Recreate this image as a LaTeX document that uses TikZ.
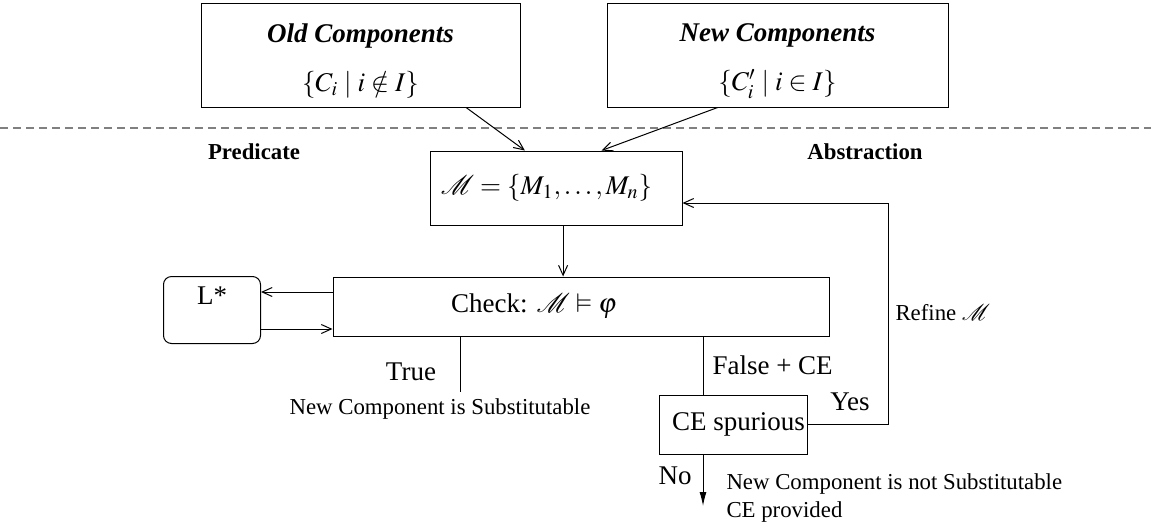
\documentclass[tikz,border=0pt]{standalone}
\usepackage{mathptmx}
\usepackage{amssymb}
\usepackage{fontspec}
\setmainfont{Liberation Serif}
\usepackage{tikz}
\usetikzlibrary{
  arrows.meta,
  calc,
}
\tikzstyle{box} = [rectangle,draw,line width=0.5pt,inner sep=0pt,font=\boxfont]
\tikzstyle{arrow} = [-{Straight Barb[length=5pt,width=4.5pt]},line width=0.5pt]
\tikzstyle{final} = [-{Latex[length=7pt,width=3.5pt]},line width=0.5pt]
\tikzstyle{sep} = [dash pattern=on 4pt off 2.5pt,gray,line width=0.6pt]
\tikzstyle{lbl} = [inner sep=0pt,anchor=west]
\newcommand{\lblfont}{\fontsize{11.4}{14}\selectfont}
\newcommand{\boxfont}{\fontsize{13.5}{16}\selectfont}

\begin{document}
\begin{tikzpicture}[x=0.5pt,y=-0.5pt,line width=0.5pt]
      \useasboundingbox (0,0) rectangle (1151,531);

      \node[box,minimum width=159.5pt,minimum height=52pt,align=center] (old) at (360.5,55) {\rule{0pt}{15pt}\textbf{\textit{Old Components}}\\[8.5pt]$\{C_i \mid i \notin I\}$};
      \node[box,minimum width=170.5pt,minimum height=52pt,align=center] (new) at (777.5,55) {\rule{0pt}{15pt}\textbf{\textit{New Components}}\\[8.5pt]$\{C'_i \mid i \in I\}$};

      \draw[sep] (0,128) -- (1151,128);

      \node[font=\lblfont\bfseries] (pred) at (254,152) {Predicate};
      \node[font=\lblfont\bfseries] (abstr) at (865,152) {Abstraction};

      \node[box,minimum width=126pt,minimum height=37pt] (mbox) at (556,188) {$\mathcal{M} = \{M_1,\ldots,M_n\}$\hspace*{9.5pt}};
      \node[box,minimum width=248pt,minimum height=29.5pt] (check) at (581,306.5) {Check: $\mathcal{M} \vDash \varphi$\hspace*{47pt}};
      \node[box,rounded corners=4pt,minimum width=48.5pt,text height=14pt,text depth=19.5pt,anchor=north west] (lstar) at (163,276) {L*};
      \node[box,minimum width=74pt,minimum height=29.5pt] (ce) at (733,424.5) {\hspace*{5.5pt}CE spurious};

      \node[font=\boxfont] (true) at (411,372) {True};
      \node[font=\lblfont] (subst) at (440,409) {New Component is Substitutable};
      \node[lbl,font=\boxfont] (false) at (712,365) {False + CE};
      \node[font=\boxfont] (yes) at (850,402) {Yes};
      \node[font=\boxfont] (no) at (675,476) {No};
      \node[lbl,font=\lblfont] (refine) at (895,313) {Refine $\mathcal{M}$};
      \node[lbl,font=\lblfont,align=left] (notsubst) at (726,498) {New Component is not Substitutable\\CE provided};

      \coordinate (mout) at ($(mbox.south west)!0.528!(mbox.south east)$);
      \coordinate (noend) at (703,506);

      \draw[arrow] ($(old.south west)!0.83!(old.south east)$) -- ($(mbox.north west)!0.377!(mbox.north east)$);
      \draw[arrow] ($(new.south west)!0.325!(new.south east)$) -- ($(mbox.north west)!0.68!(mbox.north east)$);
      \draw[arrow] (mout) -- (mout |- check.north);

      \draw[arrow] (check.west |- 0,292) -- (lstar.east |- 0,292);
      \draw[arrow] (lstar.east |- 0,329) -- (check.west |- 0,329);

      \draw (check.south -| 460,0) -- (subst.north -| 460,0);
      \draw (check.south -| 703,0) -- (ce.north -| 703,0);
      \draw[arrow] (ce.east) -| (888,203) -- (mbox.east |- 0,203);
      \draw[final] (ce.south -| noend) -- (noend);

\end{tikzpicture}
\end{document}
